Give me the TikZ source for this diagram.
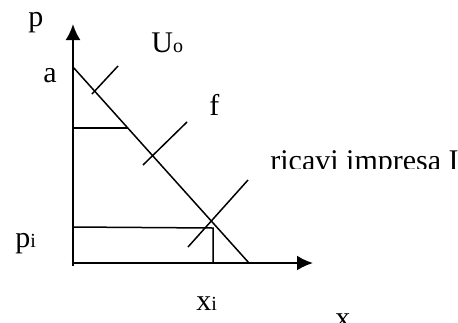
\documentclass[tikz,border=0pt]{standalone}
\usepackage{fontspec}
\setmainfont{Liberation Serif}
\usetikzlibrary{arrows.meta}
\newcommand{\lowsub}[1]{{\fontsize{10}{10}\selectfont #1}}
\begin{document}
\begin{tikzpicture}[x=0.5pt,y=-0.5pt,line join=miter,
  axis/.style={line width=1.1pt,-{Latex[length=8pt,width=7.5pt]}},
  ln/.style={line width=0.75pt},
  lbl/.style={anchor=base west,inner sep=0pt,font=\fontsize{15}{18}\selectfont}]
  \useasboundingbox (0,0) rectangle (458,322);
  % axes
  \coordinate (ybot) at (73,266);
  \coordinate (ytop) at (73,24);
  \coordinate (O) at (71.5,263);
  \coordinate (xend) at (313,263);
  \draw[axis] (ybot) -- (ytop);
  \draw[axis] (O) -- (xend);
  % demand line
  \coordinate (A) at (73,67);
  \coordinate (B) at (249,263);
  \draw[ln] (A) -- (B);
  \coordinate (h1) at (73,128);
  \coordinate (h1e) at (128,128);
  \draw[ln] (h1) -- (h1e);
  \coordinate (h2) at (73,227);
  \coordinate (h2e) at (213,228);
  \coordinate (v2) at (213,263);
  \draw[ln] (h2) -- (h2e) -- (v2);
  % short lines
  \coordinate (u1) at (118,66);
  \coordinate (u2) at (92,94);
  \draw[ln] (u1) -- (u2);
  \coordinate (f1) at (187,122);
  \coordinate (f2) at (143,165);
  \draw[ln] (f1) -- (f2);
  \coordinate (r1) at (248,180);
  \coordinate (r2) at (188,247);
  \draw[ln] (r1) -- (r2);
  % labels
  \node[lbl] (lp) at (28,26) {p};
  \node[lbl] (lu) at (151,52) {U\lowsub{o}};
  \node[lbl] (la) at (43,82) {a};
  \node[lbl] (lf) at (209,115) {f};
  \begin{scope}
    \clip (260,100) rectangle (458,168.5);
    \node[lbl] (lr) at (270,170) {ricavi impresa I};
  \end{scope}
  \node[lbl] (lpi) at (15,247) {p\lowsub{i}};
  \node[lbl] (lxi) at (196,310) {x\lowsub{i}};
  \node[lbl] (lx) at (335,327) {x};
\end{tikzpicture}
\end{document}
